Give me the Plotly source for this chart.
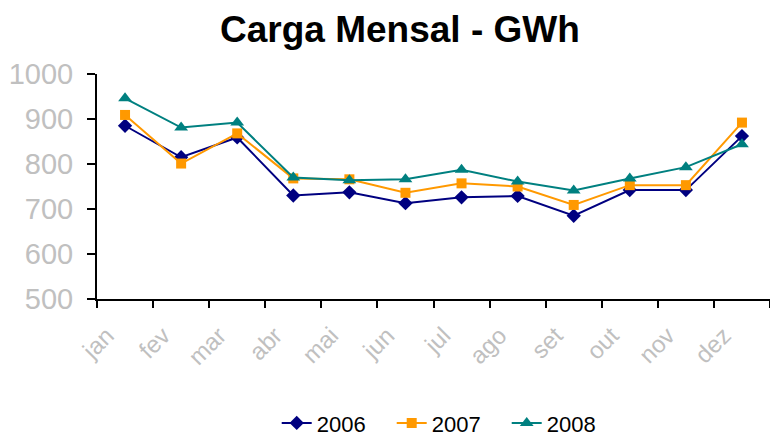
import plotly.graph_objects as go

months = ["jan", "fev", "mar", "abr", "mai", "jun", "jul", "ago", "set", "out", "nov", "dez"]
carga_2006 = [885, 815, 859, 730, 737, 713, 726, 729, 685, 742, 742, 862]
carga_2007 = [909, 801, 868, 768, 766, 736, 757, 750, 709, 753, 753, 892]
carga_2008 = [946, 881, 892, 770, 764, 766, 787, 761, 741, 768, 793, 844]
y_ticks = [500, 600, 700, 800, 900, 1000]

series = [
    ("2006", carga_2006, "#000080", "diamond", 11),
    ("2007", carga_2007, "#FF9900", "square", 10),
    ("2008", carga_2008, "#008080", "triangle-up", 12),
]

fig = go.Figure()
for name, vals, colour, symbol, size in series:
    fig.add_trace(go.Scatter(
        x=months,
        y=vals,
        name=name,
        mode="lines+markers",
        line={"color": colour, "width": 2},
        marker={"symbol": symbol, "size": size, "color": colour},
    ))

# the page body has an 8px margin, so the figure is drawn at (8, 8)
fig.update_layout(
    width=770,
    height=428,
    margin={"l": 89, "r": 8, "t": 66, "b": 137},
    paper_bgcolor="white",
    plot_bgcolor="white",
    font={"family": "Liberation Sans, Arial, sans-serif", "color": "black"},
    title={
        "text": "<b>Carga Mensal - GWh</b>",
        "x": 0.509,
        "xanchor": "center",
        "y": 0.951,
        "yanchor": "middle",
        "font": {"size": 37, "color": "black"},
    },
    showlegend=True,
    legend={
        "orientation": "h",
        "xref": "container",
        "yref": "container",
        "x": 0.573,
        "xanchor": "center",
        "y": 0.03,
        "yanchor": "middle",
        "font": {"size": 22, "color": "black"},
        "entrywidth": 70,
    },
)

fig.update_xaxes(
    range=[-0.5, 11.5],
    automargin=False,
    showline=True,
    linecolor="black",
    linewidth=2,
    ticks="outside",
    tickson="boundaries",
    ticklen=7,
    tickwidth=2,
    tickcolor="black",
    tickangle=-45,
    ticklabelstandoff=11,
    ticklabelshift=-18,
    tickfont={"size": 24, "color": "#C0C0C0"},
    showgrid=False,
    zeroline=False,
)
fig.update_yaxes(
    range=[500, 1000],
    automargin=False,
    tickvals=y_ticks,
    showline=True,
    linecolor="black",
    linewidth=2,
    ticks="outside",
    ticklen=8,
    tickwidth=2,
    tickcolor="black",
    ticklabelstandoff=8,
    tickfont={"size": 29, "color": "#C0C0C0"},
    showgrid=False,
    zeroline=False,
)

fig.write_html("out.html")
